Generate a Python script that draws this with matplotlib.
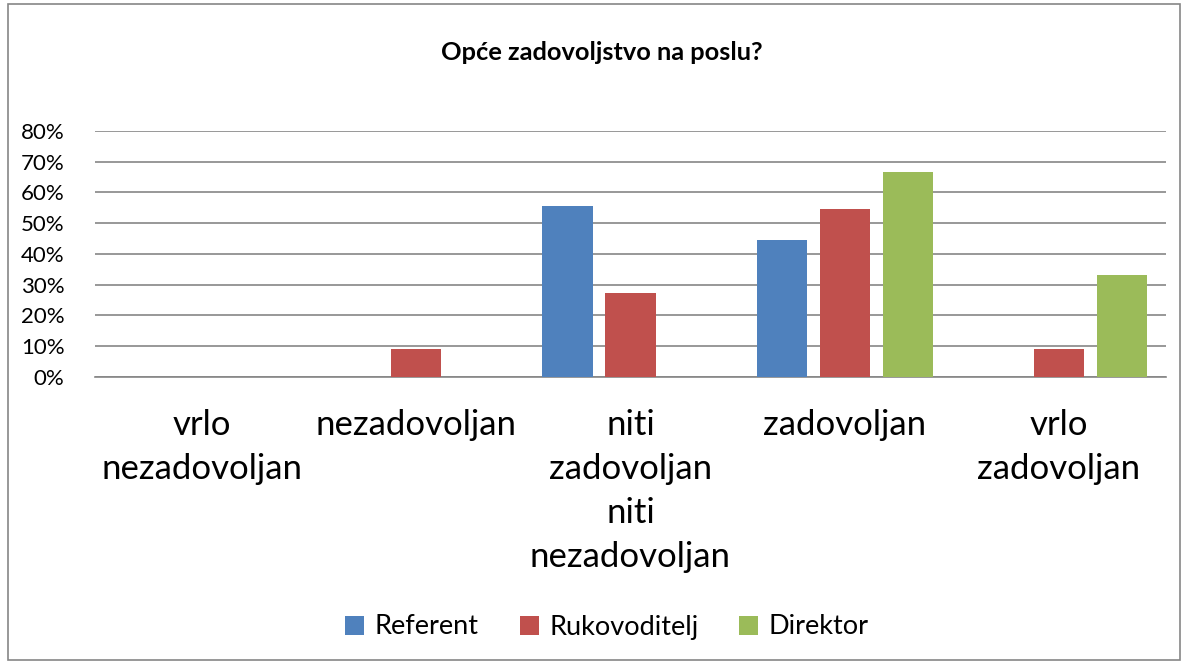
import matplotlib
matplotlib.use("Agg")
import matplotlib.pyplot as plt
from matplotlib.patches import Rectangle
import numpy as np

categories = ["vrlo\nnezadovoljan", "nezadovoljan", "niti\nzadovoljan\nniti\nnezadovoljan", "zadovoljan", "vrlo\nzadovoljan"]
series_names = ["Referent", "Rukovoditelj", "Direktor"]
referent = [0.0, 0.0, 0.556, 0.444, 0.0]
rukovoditelj = [0.0, 0.0909, 0.2727, 0.5455, 0.0909]
direktor = [0.0, 0.0, 0.0, 0.667, 0.333]
yticks = [0.0, 0.1, 0.2, 0.3, 0.4, 0.5, 0.6, 0.7, 0.8]
ytick_labels = ["0%", "10%", "20%", "30%", "40%", "50%", "60%", "70%", "80%"]
colors = ["#4F81BD", "#C0504D", "#9BBB59"]

plt.rcParams['font.family'] = ['Lato', 'DejaVu Sans']

W, H = 1183, 664
fig = plt.figure(figsize=(W/100, H/100), dpi=100)
fig.patches.append(Rectangle((8/W, 4/H), (1180-8)/W, (660-4)/H, transform=fig.transFigure,
                             fill=False, edgecolor="#868686", linewidth=1.2))

ax = fig.add_axes([95/W, 1-377/H, (1166-95)/W, (377-131)/H])
x = np.arange(len(categories))
width = 0.234
offset = 0.294
for i, (vals, name) in enumerate(zip([referent, rukovoditelj, direktor], series_names)):
    ax.bar(x + (i-1)*offset, vals, width, color=colors[i], label=name, zorder=3)

ax.set_xlim(-0.5, len(categories)-0.5)
ax.set_ylim(0, 0.8)
ax.set_yticks(yticks)
ax.set_yticklabels(ytick_labels, fontsize=16)
ax.set_xticks(x)
ax.set_xticklabels(categories, fontsize=25, linespacing=1.46)
ax.tick_params(axis='both', length=0)
ax.tick_params(axis='x', pad=23)
ax.tick_params(axis='y', pad=22)
ax.grid(axis='y', color="#868686", linewidth=1.2, zorder=0)
for s in ["top", "right", "left"]:
    ax.spines[s].set_visible(False)
ax.spines["bottom"].set_color("#868686")
ax.spines["bottom"].set_linewidth(1.2)

fig.text(602/W, 1-52/H, "Opće zadovoljstvo na poslu?", ha="center", va="center",
         fontsize=18.3, fontweight="bold")

fig.legend(loc="center", bbox_to_anchor=(607/W, 1-627/H), ncol=3, frameon=False,
           fontsize=19.5, handlelength=0.7, handleheight=0.7, handletextpad=0.4,
           columnspacing=1.5)

fig.savefig("out.png", dpi=100)
